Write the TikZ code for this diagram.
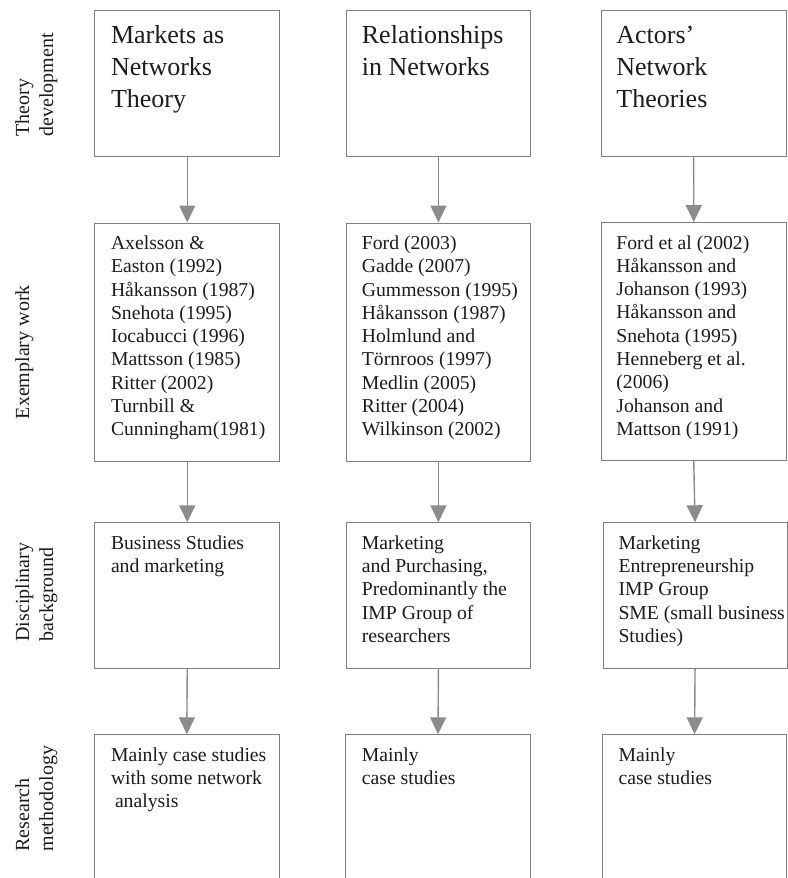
\documentclass[tikz,border=0pt]{standalone}
\usepackage{fontspec}
\setmainfont{Liberation Serif}
\usetikzlibrary{arrows.meta}
\definecolor{boxgray}{RGB}{128,128,128}
\definecolor{arrowgray}{RGB}{140,140,140}
\definecolor{ink}{RGB}{28,28,28}

\begin{document}
\begin{tikzpicture}[x=1pt,y=-1pt,
  frame/.style={draw=boxgray, line width=0.9pt, inner sep=0pt, anchor=north west},
  openframe/.style={inner sep=0pt, outer sep=0pt, anchor=north west},
  edge/.style={draw=boxgray, line width=0.9pt},
  titletext/.style={inner sep=0pt, anchor=north west, align=left, text=ink,
    font=\fontsize{26}{32}\selectfont},
  bodytext/.style={inner sep=0pt, anchor=north west, align=left, text=ink,
    font=\fontsize{19.7}{23.3}\selectfont},
  sidelabel/.style={inner sep=0pt, anchor=north west, rotate=90, align=left, text=ink,
    font=\fontsize{20}{24}\selectfont},
  flow/.style={draw=arrowgray, line width=1.4pt, -{Triangle[width=16pt,length=17pt]}},
]
\useasboundingbox (0,0) rectangle (787,878);

% ---- row 1: theory development
\node[frame, minimum width=185, minimum height=145.4] (t1) at (94.3,10.3) {};
\node[frame, minimum width=184.6, minimum height=145.4] (t2) at (345.7,10.3) {};
\node[frame, minimum width=185.4, minimum height=145.4] (t3) at (600.5,10.3) {};

% ---- row 2: exemplary work
\node[frame, minimum width=185, minimum height=238.5] (e1) at (94.3,222.5) {};
\node[frame, minimum width=184.6, minimum height=238.5] (e2) at (345.7,222.5) {};
\node[frame, minimum width=184.6, minimum height=238.2] (e3) at (601,222.1) {};

% ---- row 3: disciplinary background
\node[frame, minimum width=185, minimum height=146] (d1) at (94.3,522.3) {};
\node[frame, minimum width=184.6, minimum height=146] (d2) at (345.7,522.3) {};
\node[frame, minimum width=183.8, minimum height=146] (d3) at (602.7,522.3) {};

% ---- row 4: research methodology (boxes run off the lower edge)
\node[openframe, minimum width=185, minimum height=143.7] (m1) at (94.3,734.3) {};
\node[openframe, minimum width=184.6, minimum height=143.7] (m2) at (345.7,734.3) {};
\node[openframe, minimum width=183.8, minimum height=143.7] (m3) at (602.7,734.3) {};
\foreach \b in {m1,m2,m3}
  \draw[edge] (\b.south west) -- (\b.north west) -- (\b.north east) -- (\b.south east);

% ---- box texts
\node[titletext] (t1x) at ([xshift=16.5pt,yshift=-10.6pt]t1.north west)
  {\strut Markets as\\Networks\\Theory};
\node[titletext] (t2x) at ([xshift=16pt,yshift=-10.6pt]t2.north west)
  {\strut Relationships\\in Networks};
\node[titletext] (t3x) at ([xshift=15.7pt,yshift=-10.6pt]t3.north west)
  {\strut Actors’\\Network\\Theories};

\node[bodytext] (e1x) at ([xshift=16.5pt,yshift=-10.4pt]e1.north west)
  {\strut Axelsson \&\\Easton (1992)\\Håkansson (1987)\\Snehota (1995)\\Iocabucci (1996)\\Mattsson (1985)\\Ritter (2002)\\Turnbill \&\\Cunningham(1981)};
\node[bodytext] (e2x) at ([xshift=16pt,yshift=-10.4pt]e2.north west)
  {\strut Ford (2003)\\Gadde (2007)\\Gummesson (1995)\\Håkansson (1987)\\Holmlund and\\Törnroos (1997)\\Medlin (2005)\\Ritter (2004)\\Wilkinson (2002)};
\node[bodytext] (e3x) at ([xshift=15.2pt,yshift=-10.4pt]e3.north west)
  {\strut Ford et al (2002)\\Håkansson and\\Johanson (1993)\\Håkansson and\\Snehota (1995)\\Henneberg et al.\\(2006)\\Johanson and\\Mattson (1991)};

\node[bodytext] (d1x) at ([xshift=16.5pt,yshift=-10.4pt]d1.north west)
  {\strut Business Studies\\and marketing};
\node[bodytext] (d2x) at ([xshift=16pt,yshift=-10.4pt]d2.north west)
  {\strut Marketing\\and Purchasing,\\Predominantly the\\IMP Group of\\researchers};
\node[bodytext] (d3x) at ([xshift=15.6pt,yshift=-10.4pt]d3.north west)
  {\strut Marketing\\Entrepreneurship\\IMP Group\\SME (small business\\Studies)};

\node[bodytext] (m1x) at ([xshift=16.5pt,yshift=-10.4pt]m1.north west)
  {\strut Mainly case studies\\with some network\\\hspace*{4pt}analysis};
\node[bodytext] (m2x) at ([xshift=16pt,yshift=-10.4pt]m2.north west)
  {\strut Mainly\\case studies};
\node[bodytext] (m3x) at ([xshift=15.6pt,yshift=-10.4pt]m3.north west)
  {\strut Mainly\\case studies};

% ---- row labels, set vertically on the left
\node[sidelabel] (l1) at (12.2,136.7) {\strut Theory\\development};
\node[sidelabel] (l2) at (12.2,419.3) {\strut Exemplary work};
\node[sidelabel] (l3) at (12.2,641.7) {\strut Disciplinary\\background};
\node[sidelabel] (l4) at (12.2,851.7) {\strut Research\\methodology};

% ---- flow arrows down each column
\draw[flow] (t1.south) -- (e1.north);
\draw[flow] (t2.south) -- (e2.north);
\draw[flow] (t3.south) -- (e3.north);
\draw[flow] (e1.south) -- (d1.north);
\draw[flow] (e2.south) -- (d2.north);
\draw[flow] (e3.south) -- (d3.north);
\draw[flow] (d1.south) -- (m1.north);
\draw[flow] (d2.south) -- (m2.north);
\draw[flow] (d3.south) -- (m3.north);
\end{tikzpicture}
\end{document}
